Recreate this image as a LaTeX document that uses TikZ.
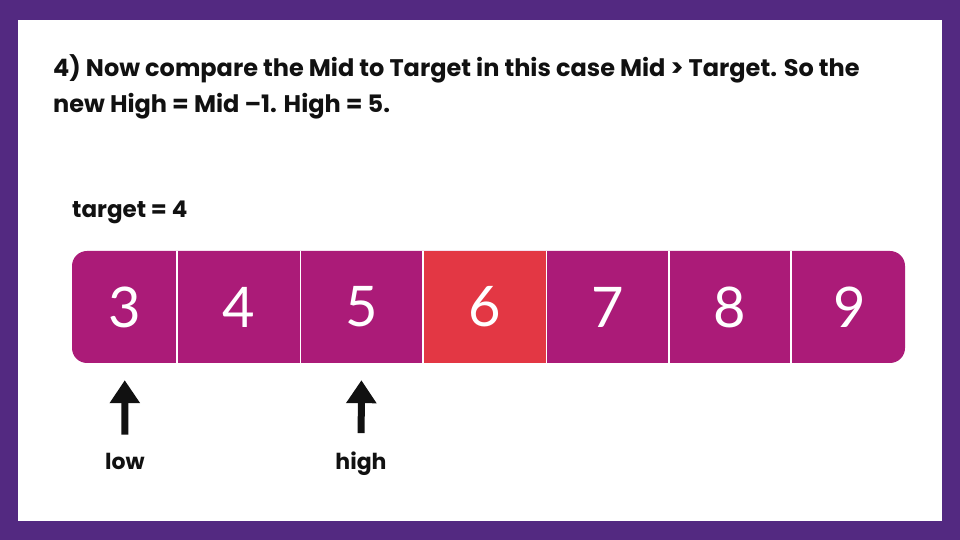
\documentclass[tikz,border=0pt]{standalone}
\usepackage{fontspec}
\setmainfont{Poppins}
\newfontfamily\digitfont{Lato}
\usepackage{tikz}
\usetikzlibrary{arrows.meta,positioning}
\definecolor{FrameViolet}{HTML}{532981}
\definecolor{CellPlum}{HTML}{AB1B78}
\definecolor{CellRed}{HTML}{E33744}
\definecolor{TextInk}{HTML}{111111}

\tikzset{
  cell/.style={minimum height=112pt, inner sep=0pt, text=white,
    font=\digitfont\fontsize{56}{60}\selectfont},
  caption/.style={anchor=base west, inner sep=0pt, text=TextInk,
    font=\bfseries\fontsize{24}{28}\selectfont},
  tag/.style={anchor=base, inner sep=0pt, text=TextInk,
    font=\bfseries\fontsize{22}{26}\selectfont},
  ptr/.style={-{Triangle[length=23pt, width=29pt]}, line width=7pt, TextInk}
}

\begin{document}
\begin{tikzpicture}[x=1pt, y=1pt]
  \useasboundingbox (0,0) rectangle (960,540);
  \fill[FrameViolet] (0,0) rectangle (960,540);
  \fill[white] (18,19) rectangle (942,520);
  % heading
  \node[caption] (head1) at (53,463) {4) Now compare the Mid to Target in this case Mid > Target. So the};
  \node[caption] (head2) at (53,427) {new High = Mid –1. High = 5.};
  \node[caption, font=\bfseries\fontsize{23}{26}\selectfont] (target) at (72,322) {target = 4};
  % the array
  \fill[CellPlum, rounded corners=15pt] (72,177) rectangle (905,289);
  \node[cell, minimum width=105pt] (c1) at (124.5,233) {3};
  \node[cell, minimum width=123pt, right=0pt of c1] (c2) {4};
  \node[cell, minimum width=122pt, right=0pt of c2] (c3) {5};
  \node[cell, minimum width=123pt, right=0pt of c3, fill=CellRed] (c4) {6};
  \node[cell, minimum width=122pt, right=0pt of c4] (c5) {7};
  \node[cell, minimum width=122pt, right=0pt of c5] (c6) {8};
  \node[cell, minimum width=116pt, right=0pt of c6] (c7) {9};
  \foreach \i in {1,...,6}
    {\draw[white, line width=1.5pt] (c\i.north east) -- (c\i.south east);}
  % pointers
  \node[tag] (low) at (125,70) {low};
  \node[tag] (high) at (361,70) {high};
  \draw[ptr, shorten <=19pt, shorten >=17pt] (low) -- (c1);
  \draw[ptr, shorten <=19pt, shorten >=17pt] (high) -- (c3);
\end{tikzpicture}
\end{document}
